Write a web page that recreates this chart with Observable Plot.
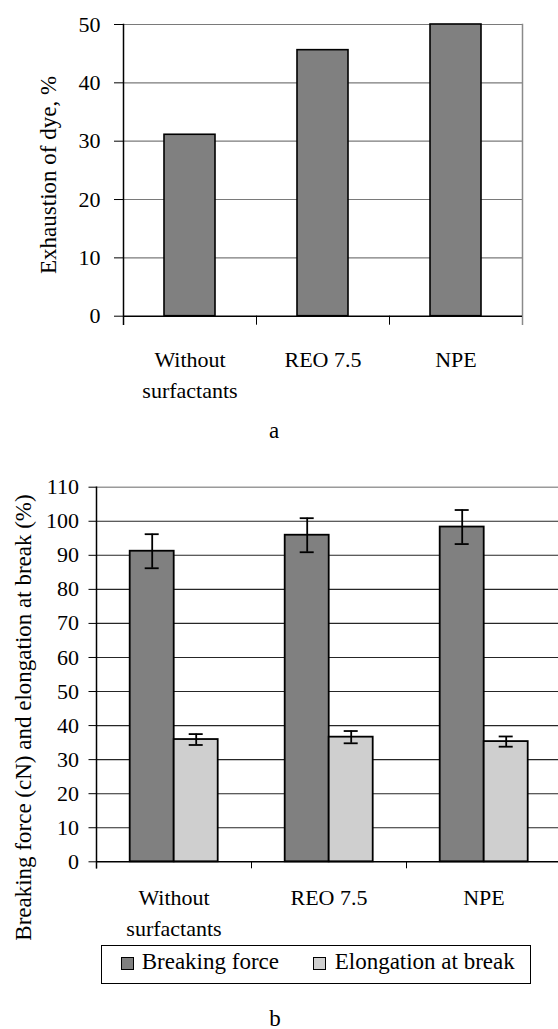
<!DOCTYPE html>
<html><head><meta charset="utf-8">
<script src="https://cdn.jsdelivr.net/npm/d3@7"></script>
<script src="https://cdn.jsdelivr.net/npm/@observablehq/plot@0.6"></script>
<style>
body{margin:0;background:#fff;width:558px;height:1029px;overflow:hidden;position:relative;color:#000}
.abs{position:absolute}
.cap{font-size:23px;line-height:19px;text-align:center;width:100px;white-space:nowrap}
.lgtxt{position:absolute;font-size:23px;line-height:23px;white-space:nowrap}
.sw{position:absolute;width:11px;height:11px;border:1.5px solid #000}
</style></head><body>
<div id="top" class="abs" style="left:0;top:0"></div>
<div id="capA" class="abs cap" style="left:224px;top:421px"></div>
<div id="bottom" class="abs" style="left:0;top:450px"></div>
<div id="legend"></div>
<div id="capB" class="abs cap" style="left:225px;top:1009px"></div>
<script>
// ---- data ----
const categories = ["Without surfactants", "REO 7.5", "NPE"];
const categoryLabels = ["Without\nsurfactants", "REO 7.5", "NPE"];
const exhaustion = [31.1, 45.6, 50.0];
const exhaustionTicks = [0, 10, 20, 30, 40, 50];
const series = ["Breaking force", "Elongation at break"];
const breakingForce = [91.2, 95.9, 98.3];
const breakingForceError = [5.0, 5.0, 5.0];
const elongation = [35.9, 36.6, 35.3];
const elongationError = [1.6, 1.8, 1.5];
const forceTicks = [0, 10, 20, 30, 40, 50, 60, 70, 80, 90, 100, 110];
const seriesColors = ["#808080", "#cfcfcf"];
const yLabelA = "Exhaustion of dye, %";
const yLabelB = "Breaking force (cN) and elongation at break (%)";
const captionA = "a";
const captionB = "b";

const font = "Liberation Serif, Times New Roman, serif";
document.querySelectorAll(".cap").forEach(e => e.style.fontFamily = "'Liberation Serif', serif");

// ---- chart a ----
const A = {W: 558, H: 410, mt: 24, mb: 94.3, ml: 123, mr: 35.3};
const innerA = A.H - A.mt - A.mb;
const dataA = categories.map((c, i) => ({cat: c, label: categoryLabels[i], value: exhaustion[i]}));
const plotA = Plot.plot({
  width: A.W, height: A.H,
  marginTop: A.mt, marginBottom: A.mb, marginLeft: A.ml, marginRight: A.mr,
  style: {fontFamily: font, fontSize: "22px", background: "transparent"},
  fx: {domain: categories, padding: 0, axis: null},
  x: {type: "band", domain: ["exhaustion"], paddingInner: 0, paddingOuter: 0.782, axis: null},
  y: {domain: [0, 50]},
  marks: [
    Plot.ruleY(exhaustionTicks.filter(t => t > 0), {stroke: "#7a7a7a", strokeWidth: 1.2}),
    Plot.frame({anchor: "right", facetAnchor: "right", stroke: "#8a8a8a", strokeWidth: 1.5, insetBottom: -8}),
    Plot.barY(dataA, {fx: "cat", x: () => "exhaustion", y: "value", fill: "#808080", stroke: "#000", strokeWidth: 1.6}),
    Plot.ruleY([0], {stroke: "#000", strokeWidth: 1.5}),
    Plot.frame({anchor: "left", stroke: "#000", strokeWidth: 1, insetTop: innerA, insetBottom: -8}),
    Plot.frame({anchor: "left", facetAnchor: "left", stroke: "#000", strokeWidth: 1.5, insetBottom: -8}),
    Plot.axisY(exhaustionTicks, {tickSize: 9, tickPadding: 14, fontSize: 22, fontFamily: font, label: null}),
    Plot.text(dataA, {fx: "cat", text: "label", frameAnchor: "bottom", lineAnchor: "top", dy: 28.7, lineHeight: 1.41, fontSize: 22, fontFamily: font}),
    Plot.text([{cat: categories[0], t: yLabelA}], {fx: "cat", text: "t", frameAnchor: "left", textAnchor: "middle", rotate: -90, lineAnchor: "bottom", dx: -68, dy: 4.6, fontSize: 23, fontFamily: font})
  ]
});
document.getElementById("top").appendChild(plotA);
document.getElementById("capA").textContent = captionA;

// ---- chart b ----
const B = {W: 558, H: 490, mt: 36.7, mb: 78.7, ml: 95.3, mr: -3.5};
const innerB = B.H - B.mt - B.mb;
const dataB = [];
categories.forEach((c, i) => {
  dataB.push({cat: c, s: series[0], value: breakingForce[i], err: breakingForceError[i]});
  dataB.push({cat: c, s: series[1], value: elongation[i], err: elongationError[i]});
});
const labelsB = categories.map((c, i) => ({cat: c, label: categoryLabels[i]}));
const plotB = Plot.plot({
  width: B.W, height: B.H,
  marginTop: B.mt, marginBottom: B.mb, marginLeft: B.ml, marginRight: B.mr,
  style: {fontFamily: font, fontSize: "22px", background: "transparent"},
  fx: {domain: categories, padding: 0, axis: null},
  x: {type: "band", domain: series, paddingInner: 0, paddingOuter: 0.743, axis: null},
  y: {domain: [0, 110]},
  color: {domain: series, range: seriesColors},
  marks: [
    Plot.ruleY(forceTicks.filter(t => t > 0 && t < 110), {stroke: "#262626", strokeWidth: 1.1}),
    Plot.ruleY([110], {stroke: "#9a9a9a", strokeWidth: 1.5}),
    Plot.barY(dataB, {fx: "cat", x: "s", y: "value", fill: "s", stroke: "#000", strokeWidth: 1.8}),
    Plot.ruleX(dataB, {fx: "cat", x: "s", y1: d => d.value - d.err, y2: d => d.value + d.err, stroke: "#000", strokeWidth: 1.8}),
    Plot.tickY(dataB, {fx: "cat", x: "s", y: d => d.value - d.err, stroke: "#000", strokeWidth: 1.8, insetLeft: 15, insetRight: 15}),
    Plot.tickY(dataB, {fx: "cat", x: "s", y: d => d.value + d.err, stroke: "#000", strokeWidth: 1.8, insetLeft: 15, insetRight: 15}),
    Plot.ruleY([0], {stroke: "#000", strokeWidth: 1.5}),
    Plot.frame({anchor: "left", stroke: "#000", strokeWidth: 1, insetTop: innerB, insetBottom: -6}),
    Plot.frame({anchor: "left", facetAnchor: "left", stroke: "#000", strokeWidth: 1.5, insetBottom: -6}),
    Plot.axisY(forceTicks, {tickSize: 7.5, tickPadding: 10, fontSize: 22, fontFamily: font, label: null}),
    Plot.text(labelsB, {fx: "cat", text: "label", frameAnchor: "bottom", lineAnchor: "top", dy: 22.4, lineHeight: 1.364, fontSize: 22, fontFamily: font}),
    Plot.text([{cat: categories[0], t: yLabelB}], {fx: "cat", text: "t", frameAnchor: "left", textAnchor: "middle", rotate: -90, lineAnchor: "bottom", dx: -65.3, dy: 43, fontSize: 23, fontFamily: font})
  ]
});
document.getElementById("bottom").appendChild(plotB);
document.getElementById("capB").textContent = captionB;

// ---- legend (HTML, below chart b) ----
const legend = document.getElementById("legend");
const box = document.createElement("div");
box.className = "abs";
Object.assign(box.style, {left: "101px", top: "945px", width: "428px", height: "37px", border: "1px solid #000"});
legend.appendChild(box);
const lgPos = [{sw: 120.5, tx: 141.7}, {sw: 312.7, tx: 334.7}];
series.forEach((s, i) => {
  const sw = document.createElement("div");
  sw.className = "sw";
  Object.assign(sw.style, {left: lgPos[i].sw + "px", top: "957px", background: seriesColors[i]});
  legend.appendChild(sw);
  const t = document.createElement("div");
  t.className = "lgtxt";
  Object.assign(t.style, {left: lgPos[i].tx + "px", top: "950px", fontFamily: "'Liberation Serif', serif"});
  t.textContent = s;
  legend.appendChild(t);
});
</script>
</body></html>
